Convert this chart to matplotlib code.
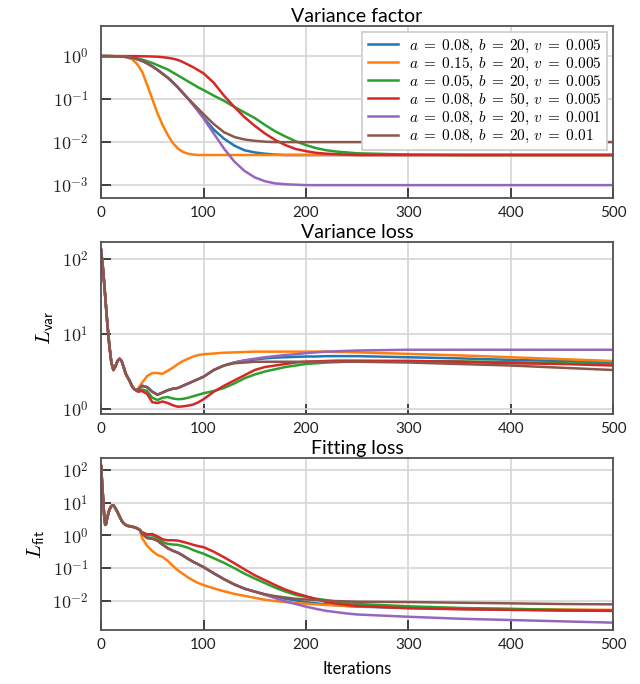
import matplotlib
matplotlib.use("Agg")
import numpy as np
import matplotlib.pyplot as plt
from matplotlib.ticker import FuncFormatter, NullLocator

plt.rcParams["font.family"] = ["Lato", "DejaVu Sans"]
plt.rcParams["mathtext.fontset"] = "cm"

labels = [r"$a\;=\;0.08,\,b\;=\;20,\,v\;=\;0.005$",
          r"$a\;=\;0.15,\,b\;=\;20,\,v\;=\;0.005$",
          r"$a\;=\;0.05,\,b\;=\;20,\,v\;=\;0.005$",
          r"$a\;=\;0.08,\,b\;=\;50,\,v\;=\;0.005$",
          r"$a\;=\;0.08,\,b\;=\;20,\,v\;=\;0.001$",
          r"$a\;=\;0.08,\,b\;=\;20,\,v\;=\;0.01$"]
colors = ["#1f77b4", "#ff7f0e", "#2ca02c", "#d62728", "#9467bd", "#8c564b"]

# ---- variance factor (log10 of value) ----
it_top = list(range(0, 101, 5)) + list(range(110, 251, 10)) + [300, 350, 400, 450, 500]
vf_blue = [0, 0, -0.002, -0.005, -0.01, -0.02, -0.04, -0.07, -0.11, -0.17, -0.24, -0.32, -0.41, -0.5, -0.61, -0.73, -0.86, -0.99, -1.13, -1.28, -1.43,
           -1.71, -1.92, -2.08, -2.19, -2.24, -2.27, -2.29, -2.3, -2.3, -2.3, -2.3, -2.3, -2.3, -2.3, -2.3,
           -2.3, -2.3, -2.3, -2.3, -2.3]
vf_orange = [0, 0, 0, -0.003, -0.008, -0.03, -0.07, -0.18, -0.36, -0.67, -1.0, -1.33, -1.6, -1.83, -2.02, -2.15, -2.23, -2.27, -2.29, -2.3, -2.3,
             -2.3, -2.3, -2.3, -2.3, -2.3, -2.3, -2.3, -2.3, -2.3, -2.3, -2.3, -2.3, -2.3, -2.3, -2.3,
             -2.3, -2.3, -2.3, -2.3, -2.3]
vf_green = [0, 0, -0.002, -0.005, -0.01, -0.015, -0.025, -0.05, -0.08, -0.12, -0.16, -0.21, -0.26, -0.31, -0.38, -0.45, -0.52, -0.59, -0.66, -0.73, -0.79,
            -0.92, -1.04, -1.18, -1.31, -1.44, -1.6, -1.75, -1.87, -1.98, -2.07, -2.14, -2.19, -2.22, -2.24, -2.26,
            -2.29, -2.3, -2.3, -2.3, -2.3]
vf_red = [0, 0, 0, 0, 0, 0, 0, -0.002, -0.004, -0.006, -0.01, -0.015, -0.025, -0.04, -0.06, -0.09, -0.14, -0.2, -0.26, -0.33, -0.4,
          -0.62, -0.92, -1.18, -1.42, -1.62, -1.8, -1.95, -2.07, -2.16, -2.21, -2.25, -2.27, -2.28, -2.29, -2.3,
          -2.3, -2.3, -2.3, -2.3, -2.3]
vf_purple = [0, 0, -0.002, -0.005, -0.01, -0.02, -0.04, -0.07, -0.11, -0.17, -0.24, -0.32, -0.41, -0.5, -0.61, -0.73, -0.86, -0.99, -1.14, -1.29, -1.45,
             -1.8, -2.15, -2.45, -2.67, -2.82, -2.91, -2.96, -2.98, -2.99, -3.0, -3.0, -3.0, -3.0, -3.0, -3.0,
             -3.0, -3.0, -3.0, -3.0, -3.0]
vf_brown = [0, 0, -0.002, -0.005, -0.01, -0.02, -0.04, -0.07, -0.11, -0.17, -0.24, -0.32, -0.41, -0.5, -0.61, -0.73, -0.86, -0.99, -1.11, -1.23, -1.35,
            -1.58, -1.77, -1.88, -1.94, -1.97, -1.99, -2.0, -2.0, -2.0, -2.0, -2.0, -2.0, -2.0, -2.0, -2.0,
            -2.0, -2.0, -2.0, -2.0, -2.0]

# ---- variance loss (log10), shared start then one tail per run ----
it_var_start = list(range(0, 35, 2))
var_start = [2.12, 1.85, 1.5, 1.15, 0.85, 0.62, 0.52, 0.57, 0.64, 0.67, 0.64, 0.56, 0.47, 0.42, 0.37, 0.31, 0.27, 0.25]
it_var_tail = [36] + list(range(40, 101, 5)) + list(range(110, 251, 10)) + [300, 350, 400, 450, 500]
var_blue = [0.26, 0.31, 0.29, 0.23, 0.19, 0.22, 0.25, 0.27, 0.28, 0.31, 0.34, 0.37, 0.4, 0.43,
            0.52, 0.58, 0.62, 0.645, 0.66, 0.675, 0.685, 0.69, 0.695, 0.7, 0.7, 0.705, 0.705, 0.705, 0.705,
            0.69, 0.675, 0.655, 0.64, 0.62]
var_orange = [0.27, 0.35, 0.44, 0.48, 0.48, 0.47, 0.51, 0.55, 0.6, 0.64, 0.67, 0.7, 0.72, 0.73,
              0.74, 0.75, 0.755, 0.76, 0.765, 0.765, 0.765, 0.765, 0.765, 0.765, 0.765, 0.765, 0.76, 0.76, 0.755,
              0.735, 0.715, 0.69, 0.665, 0.64]
var_green = [0.24, 0.26, 0.24, 0.15, 0.12, 0.15, 0.16, 0.14, 0.13, 0.135, 0.15, 0.17, 0.19, 0.21,
             0.24, 0.28, 0.34, 0.41, 0.46, 0.5, 0.53, 0.56, 0.58, 0.6, 0.61, 0.62, 0.625, 0.63, 0.635,
             0.64, 0.635, 0.625, 0.61, 0.6]
var_red = [0.23, 0.24, 0.2, 0.09, 0.08, 0.1, 0.08, 0.05, 0.03, 0.035, 0.045, 0.06, 0.09, 0.13,
           0.23, 0.31, 0.38, 0.45, 0.52, 0.56, 0.58, 0.6, 0.62, 0.63, 0.635, 0.64, 0.645, 0.645, 0.645,
           0.64, 0.63, 0.61, 0.6, 0.58]
var_purple = [0.26, 0.31, 0.29, 0.23, 0.19, 0.22, 0.25, 0.27, 0.28, 0.31, 0.34, 0.37, 0.4, 0.43,
              0.52, 0.58, 0.62, 0.65, 0.67, 0.69, 0.705, 0.72, 0.73, 0.745, 0.755, 0.765, 0.77, 0.775, 0.78,
              0.79, 0.79, 0.79, 0.79, 0.79]
var_brown = [0.26, 0.31, 0.29, 0.23, 0.19, 0.22, 0.25, 0.27, 0.28, 0.31, 0.34, 0.37, 0.4, 0.43,
             0.52, 0.58, 0.61, 0.62, 0.63, 0.63, 0.63, 0.63, 0.63, 0.63, 0.63, 0.63, 0.63, 0.63, 0.63,
             0.62, 0.6, 0.58, 0.55, 0.52]

# ---- fitting loss (log10), shared start then one tail per run ----
it_fit_start = [0, 1, 2, 3, 4, 5, 6] + list(range(8, 39, 2))
fit_start = [2.12, 1.6, 1.1, 0.6, 0.32, 0.36, 0.55, 0.78, 0.9, 0.92, 0.83, 0.71, 0.58, 0.45, 0.37, 0.32, 0.29, 0.28, 0.27, 0.25, 0.23, 0.2, 0.16]
it_fit_tail = list(range(40, 101, 5)) + list(range(110, 251, 10)) + [300, 350, 400, 450, 500]
fit_blue = [0.05, -0.08, -0.1, -0.16, -0.28, -0.39, -0.47, -0.53, -0.62, -0.72, -0.81, -0.89, -0.97,
            -1.16, -1.34, -1.5, -1.63, -1.72, -1.81, -1.88, -1.94, -1.99, -2.04, -2.08, -2.11, -2.14, -2.16, -2.18,
            -2.22, -2.25, -2.27, -2.29, -2.3]
fit_orange = [-0.08, -0.32, -0.48, -0.6, -0.66, -0.78, -0.93, -1.07, -1.18, -1.29, -1.38, -1.46, -1.52,
              -1.62, -1.71, -1.79, -1.85, -1.91, -1.97, -2.01, -2.04, -2.07, -2.09, -2.11, -2.13, -2.14, -2.16, -2.17,
              -2.2, -2.23, -2.25, -2.27, -2.28]
fit_green = [0.08, 0.0, 0.0, -0.08, -0.2, -0.26, -0.28, -0.29, -0.33, -0.38, -0.45, -0.51, -0.56,
             -0.7, -0.84, -1.0, -1.17, -1.32, -1.46, -1.6, -1.72, -1.82, -1.88, -1.94, -1.98, -2.03, -2.07, -2.1,
             -2.17, -2.22, -2.25, -2.28, -2.3]
fit_red = [0.1, 0.03, 0.04, -0.03, -0.12, -0.15, -0.15, -0.16, -0.2, -0.24, -0.29, -0.33, -0.36,
           -0.5, -0.67, -0.85, -1.04, -1.22, -1.37, -1.52, -1.66, -1.77, -1.86, -1.95, -2.04, -2.09, -2.13, -2.16,
           -2.23, -2.26, -2.28, -2.3, -2.31]
fit_purple = [0.05, -0.08, -0.1, -0.16, -0.28, -0.39, -0.47, -0.53, -0.62, -0.72, -0.81, -0.89, -0.97,
              -1.16, -1.34, -1.5, -1.63, -1.72, -1.82, -1.92, -2.02, -2.1, -2.18, -2.25, -2.31, -2.35, -2.39, -2.42,
              -2.49, -2.55, -2.59, -2.63, -2.67]
fit_brown = [0.05, -0.08, -0.1, -0.16, -0.28, -0.39, -0.47, -0.53, -0.62, -0.72, -0.81, -0.89, -0.97,
             -1.16, -1.34, -1.5, -1.63, -1.72, -1.8, -1.86, -1.9, -1.94, -1.96, -1.98, -2.0, -2.01, -2.02, -2.03,
             -2.04, -2.06, -2.08, -2.1, -2.11]

vf_all = [vf_blue, vf_orange, vf_green, vf_red, vf_purple, vf_brown]
var_all = [var_blue, var_orange, var_green, var_red, var_purple, var_brown]
fit_all = [fit_blue, fit_orange, fit_green, fit_red, fit_purple, fit_brown]


def style(ax, ylim, yticks):
    ax.set_yscale("log")
    ax.set_xlim(0, 500)
    ax.set_ylim(*ylim)
    ax.set_xticks([0, 100, 200, 300, 400, 500])
    ax.set_yticks(yticks)
    ax.yaxis.set_minor_locator(NullLocator())
    ax.yaxis.set_major_formatter(FuncFormatter(lambda v, p: r"$10^{%d}$" % round(np.log10(v))))
    ax.grid(True, color="#d6d6d6", lw=1.2)
    ax.set_axisbelow(True)
    for s in ax.spines.values():
        s.set_color("#505050")
        s.set_linewidth(1.3)
    ax.tick_params(axis="both", direction="in", length=7, width=1.3, color="#333333")
    ax.tick_params(axis="x", labelsize=11, pad=6, labelcolor="#222222")
    ax.tick_params(axis="y", labelsize=13, pad=9, labelcolor="#222222")


fig = plt.figure(figsize=(6.4, 6.84), dpi=100)
ax1 = fig.add_axes([0.158, 0.7105, 0.8, 0.2515])
ax2 = fig.add_axes([0.158, 0.3947, 0.8, 0.2515])
ax3 = fig.add_axes([0.158, 0.0789, 0.8, 0.2515])

for k in range(6):
    ax1.plot(it_top, 10 ** np.array(vf_all[k]), color=colors[k], lw=1.8, label=labels[k])
    ax2.plot(it_var_start + it_var_tail, 10 ** np.array(var_start + var_all[k]), color=colors[k], lw=1.8)
    ax3.plot(it_fit_start + it_fit_tail, 10 ** np.array(fit_start + fit_all[k]), color=colors[k], lw=1.8)

style(ax1, (10 ** -3.3, 10 ** 0.7), [1e-3, 1e-2, 1e-1, 1e0])
style(ax2, (10 ** -0.067, 10 ** 2.227), [1e0, 1e1, 1e2])
style(ax3, (10 ** -2.896, 10 ** 2.367), [1e-2, 1e-1, 1e0, 1e1, 1e2])

ax1.set_title("Variance factor", fontsize=14, pad=3)
ax2.set_title("Variance loss", fontsize=14, pad=3)
ax3.set_title("Fitting loss", fontsize=14, pad=3)
ax2.set_ylabel(r"$L_{\mathsf{var}}$", fontsize=15)
ax3.set_ylabel(r"$L_{\mathsf{fit}}$", fontsize=15)
ax3.set_xlabel("Iterations", fontsize=12, labelpad=6)

leg = ax1.legend(loc="upper right", fontsize=11, fancybox=False, edgecolor="#cccccc",
                 framealpha=1, labelspacing=0.06, handlelength=2.0, borderaxespad=0.4,
                 borderpad=0.35, handletextpad=0.7)
leg.get_frame().set_linewidth(1.2)

fig.savefig("out.png", dpi=100)
